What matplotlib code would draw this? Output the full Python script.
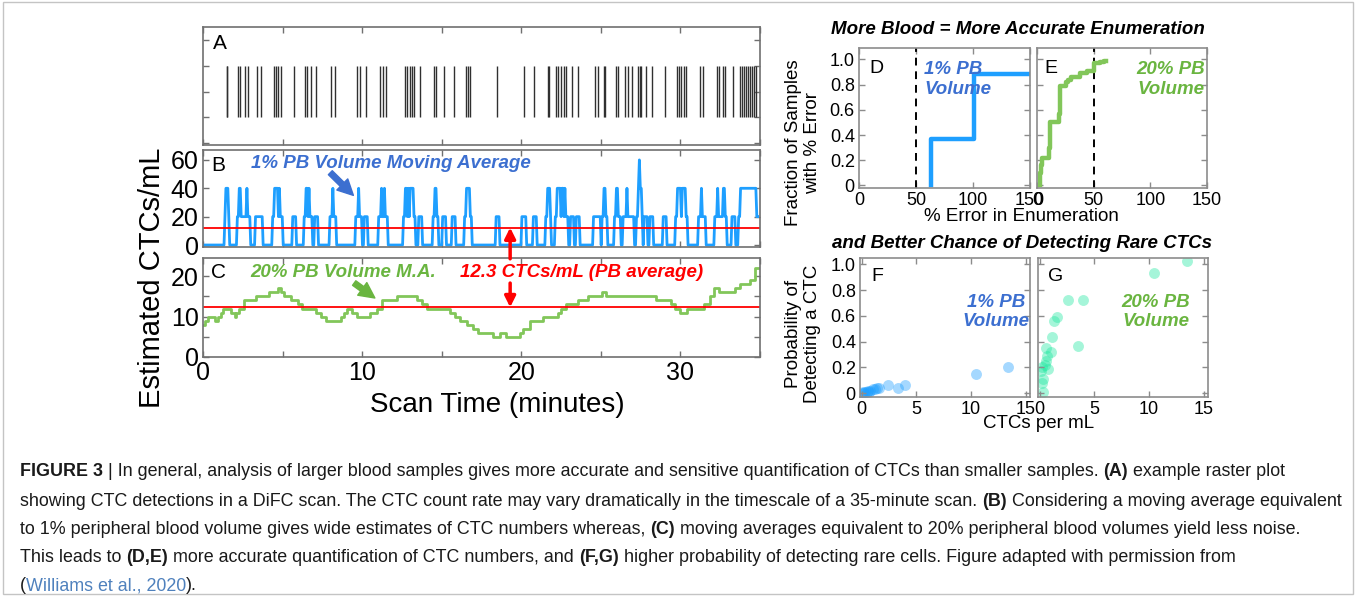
import matplotlib
matplotlib.use("Agg")
import matplotlib.pyplot as plt
import numpy as np
from matplotlib.patches import ConnectionPatch, Rectangle

plt.rcParams["font.family"] = ["Liberation Sans", "DejaVu Sans"]

# --- data ---------------------------------------------------------------
# A: CTC detection times in the scan (minutes)
ctc_events = [1.48, 1.52, 2.23, 2.35, 2.64, 2.85, 3.39, 3.64, 4.48, 4.60, 4.73, 4.89,
              5.73, 6.44, 6.56, 6.77, 7.10, 8.06, 8.27, 9.69, 9.89, 10.23, 11.14, 11.31,
              11.48, 12.71, 12.83, 13.00, 13.13, 13.25, 13.66, 14.54, 14.66, 15.13, 15.75,
              16.54, 16.66, 16.79, 18.50, 20.16, 20.83, 21.66, 21.75, 22.21, 22.33, 22.50,
              22.66, 22.83, 23.19, 23.56, 24.64, 24.85, 25.19, 25.27, 25.94, 26.10, 26.52,
              26.73, 26.98, 27.35, 27.44, 27.52, 27.81, 28.19, 29.02, 29.77, 29.89, 30.06,
              30.23, 30.35, 31.23, 31.44, 32.27, 32.44, 32.69, 32.81, 33.31, 33.77, 33.89,
              34.02, 34.14, 34.27, 34.39, 34.52, 34.64, 34.77]
scan_length = 34.9
window_1pct = 0.25          # minutes of scan equivalent to 1% PB volume
ctc_per_event_1pct = 20     # CTCs/mL contributed by one detection
pb_average = 12.3

# C: 20% PB volume moving average
c_time = [0, 0.1, 0.31, 0.52, 0.73, 0.94, 1.15, 1.25, 1.46, 1.77, 1.98, 2.08, 2.29, 2.5,
          2.6, 3.02, 3.33, 4.06, 4.17, 4.48, 4.69, 4.9, 5.1, 5.31, 5.52, 5.83, 5.94, 6.25,
          6.77, 7.08, 7.4, 7.71, 8.02, 8.54, 8.65, 8.85, 9.06, 9.27, 9.38, 9.69, 10.31,
          10.52, 10.94, 11.15, 11.25, 12.08, 12.19, 12.4, 13.02, 13.44, 13.75, 14.06, 14.27,
          15.31, 15.52, 15.83, 16.15, 16.56, 16.98, 17.29, 17.6, 17.81, 18.23, 18.65, 19.06,
          19.48, 19.69, 19.9, 20.1, 20.52, 21.04, 21.35, 22.08, 22.29, 22.5, 22.71, 22.81,
          23.33, 23.54, 23.75, 24.17, 24.38, 24.79, 25.1, 25.31, 25.73, 26.56, 26.98, 27.4,
          27.81, 28.02, 28.44, 28.75, 29.06, 29.38, 29.69, 30.0, 30.21, 30.42, 30.73, 31.15,
          31.46, 31.67, 31.88, 32.08, 32.4, 32.81, 33.02, 33.44, 33.75, 34.06, 34.38, 34.69,
          34.85]
c_value = [8, 9, 10, 10, 9, 10, 11, 12, 12, 11, 10, 11, 12, 12, 14, 14, 15, 15, 16, 16, 17,
           16, 15, 15, 14, 14, 13, 12, 12, 11, 10, 9, 9, 9, 10, 11, 12, 12, 11, 10, 10, 11,
           12, 12, 14, 14, 15, 15, 15, 14, 13, 12, 12, 12, 11, 10, 9, 8, 7, 6, 6, 6, 5, 6, 5,
           5, 5, 6, 7, 9, 9, 10, 10, 11, 12, 12, 13, 13, 14, 14, 15, 15, 15, 16, 15, 15, 15,
           15, 15, 15, 15, 14, 14, 14, 13, 12, 11, 11, 12, 12, 12, 13, 13, 15, 17, 16, 16, 16,
           17, 18, 18, 19, 22, 22]

# D, E: cumulative fraction of samples vs % error
d_error = [63, 63, 101, 150]
d_frac = [0.0, 0.37, 0.88, 0.88]
e_error = [2.4, 2.4, 3.0, 3.6, 4.4, 10.5, 11.2, 11.8, 19.3, 20.0, 20.6, 26.0, 27.5, 30.0,
           38.0, 44.0, 50.5, 56.0, 59.0, 60.5]
e_frac = [0.0, 0.05, 0.10, 0.16, 0.22, 0.30, 0.37, 0.50, 0.57, 0.66, 0.79, 0.82, 0.84, 0.86,
          0.89, 0.91, 0.97, 0.98, 0.99, 0.99]
error_threshold = 50

# F, G: probability of detecting a CTC vs CTCs per mL
f_conc = [0.05, 0.15, 0.25, 0.35, 0.45, 0.55, 0.65, 0.8, 1.0, 1.2, 1.4, 1.6, 2.45, 3.35,
          3.95, 10.5, 13.4]
f_prob = [0.0, 0.01, 0.0, 0.01, 0.01, 0.02, 0.01, 0.02, 0.03, 0.03, 0.04, 0.04, 0.06, 0.04,
          0.06, 0.15, 0.2]
g_conc = [0.1, 0.2, 0.3, 0.35, 0.5, 0.55, 0.6, 0.7, 0.75, 1.0, 1.1, 1.35, 1.55, 2.55, 3.5,
          3.95, 10.45, 13.5, 0.2]
g_prob = [0.17, 0.2, 0.11, 0.01, 0.22, 0.35, 0.25, 0.29, 0.19, 0.32, 0.44, 0.56, 0.59, 0.72,
          0.37, 0.72, 0.93, 1.03, 0.08]

BLUE_LINE = "#1E9FFF"
BLUE_TXT = "#3C6FD0"
GREEN_LINE = "#82C65A"
GREEN_TXT = "#6AB540"
MINT = "#20E8A0"
INK = "#1a1a1a"

W, H = 1356, 596
fig = plt.figure(figsize=(W / 100, H / 100), dpi=100)


def axes_px(left, top, right, bottom):
    return fig.add_axes([left / W, 1 - bottom / H, (right - left) / W, (bottom - top) / H])


def style(ax, color, size):
    for s in ax.spines.values():
        s.set_color(color)
        s.set_linewidth(1.2)
    ax.tick_params(direction="in", top=True, right=True, length=4, width=1,
                   color=color, labelsize=size, pad=3)


axA = axes_px(203, 27, 760, 145)
axB = axes_px(203, 150, 760, 247)
axC = axes_px(203, 258, 760, 357)
axD = axes_px(859, 48, 1030, 188)
axE = axes_px(1037, 48, 1207, 188)
axF = axes_px(860, 258, 1030, 397)
axG = axes_px(1038, 258, 1208, 397)

xt = np.arange(0, 36, 5)

# A: raster
axA.vlines(ctc_events, 1, 3, color="#303030", lw=1.0)
axA.set_xlim(0, scan_length)
axA.set_ylim(-0.07, 4.5)
axA.set_xticks(xt)
axA.set_yticks([0, 1, 2, 3, 4])
style(axA, "#707070", 18)
axA.tick_params(labelbottom=False, labelleft=False)
axA.text(0.6, 3.85, "A", fontsize=15, va="center")

# B: 1% PB moving average (count of detections in a short window)
ev = np.array(ctc_events)
t_grid = np.arange(0, scan_length, 0.06)
counts = (np.searchsorted(ev, t_grid + window_1pct / 2, side="right")
          - np.searchsorted(ev, t_grid - window_1pct / 2, side="left"))
axB.plot(t_grid, counts * ctc_per_event_1pct, color=BLUE_LINE, lw=2.0)
axB.axhline(pb_average, color="red", lw=1.3)
axB.set_xlim(0, scan_length)
axB.set_ylim(-1.4, 67)
axB.set_xticks(xt)
axB.set_yticks([0, 20, 40, 60])
style(axB, "#707070", 18)
axB.tick_params(labelbottom=False)
axB.text(0.5, 56, "B", fontsize=15, va="center")
axB.text(3.0, 57.5, "1% PB Volume Moving Average", fontsize=13.5, weight="bold",
         style="italic", color=BLUE_TXT, va="center")
axB.annotate("", xy=(9.45, 35), xytext=(8.0, 51),
             arrowprops=dict(arrowstyle="simple,head_length=0.7,head_width=0.7,tail_width=0.25",
                             color=BLUE_TXT, mutation_scale=16, shrinkA=0, shrinkB=0))

# C: 20% PB moving average
axC.step(c_time, c_value, where="post", color=GREEN_LINE, lw=2.0)
axC.axhline(pb_average, color="red", lw=1.3)
axC.set_xlim(0, scan_length)
axC.set_ylim(0, 24.5)
axC.set_xticks(xt)
axC.set_xticklabels(["0", "", "10", "", "20", "", "30", ""])
axC.set_yticks([0, 5, 10, 15, 20])
axC.set_yticklabels(["0", "", "10", "", "20"])
style(axC, "#707070", 18)
axC.text(0.5, 21, "C", fontsize=15, va="center")
axC.text(3.0, 21, "20% PB Volume M.A.", fontsize=13.5, weight="bold", style="italic",
         color=GREEN_TXT, va="center")
axC.text(16.15, 21, "12.3 CTCs/mL (PB average)", fontsize=13.5, weight="bold",
         style="italic", color="red", va="center")
axC.annotate("", xy=(10.8, 14.6), xytext=(9.5, 18.3),
             arrowprops=dict(arrowstyle="simple,head_length=0.7,head_width=0.7,tail_width=0.25",
                             color=GREEN_TXT, mutation_scale=16, shrinkA=0, shrinkB=0))
axC.annotate("", xy=(19.3, pb_average), xytext=(19.3, 18.3),
             arrowprops=dict(arrowstyle="-|>", color="red", lw=2.5, mutation_scale=16,
                             shrinkA=0, shrinkB=0))
up = ConnectionPatch(xyA=(19.3, 24.3), coordsA=axC.transData,
                     xyB=(19.3, pb_average), coordsB=axB.transData,
                     arrowstyle="-|>", color="red", lw=2.5, mutation_scale=16,
                     shrinkA=0, shrinkB=0)
fig.add_artist(up)

fig.text(152 / W, 1 - 278 / H, "Estimated CTCs/mL", rotation=90, fontsize=21,
         ha="center", va="center")
fig.text(497 / W, 1 - 405 / H, "Scan Time (minutes)", fontsize=20, ha="center", va="center")

# D, E: error CDFs
for ax in (axD, axE):
    ax.axvline(error_threshold, color="black", lw=1.4, ls=(0, (4, 3)))
    ax.set_xlim(0, 150)
    ax.set_ylim(-0.02, 1.09)
    ax.set_xticks([0, 50, 100, 150])
    ax.set_yticks([0, 0.2, 0.4, 0.6, 0.8, 1.0])
    style(ax, "#8c8c8c", 13)
axD.step(d_error, d_frac, where="post", color=BLUE_LINE, lw=3.2)
axE.step(e_error, e_frac, where="post", color=GREEN_LINE, lw=3.2)
axD.set_yticklabels(["0", "0.2", "0.4", "0.6", "0.8", "1.0"])
axE.tick_params(labelleft=False)
axD.text(15, 0.93, "D", fontsize=14, ha="center", va="center")
axE.text(12, 0.93, "E", fontsize=14, ha="center", va="center")
axD.text(57, 0.84, "1% PB\nVolume", fontsize=13.5, weight="bold", style="italic",
         color=BLUE_TXT, ha="left", va="center", multialignment="left")
axE.text(118, 0.84, "20% PB\nVolume", fontsize=13.5, weight="bold", style="italic",
         color=GREEN_TXT, ha="center", va="center", multialignment="center")

fig.text(1018 / W, 1 - 30 / H, "More Blood = More Accurate Enumeration", fontsize=13.5,
         weight="bold", style="italic", ha="center", va="center")
fig.text(803 / W, 1 - 143 / H, "Fraction of Samples\nwith % Error", rotation=90,
         fontsize=13.5, ha="center", va="center", multialignment="center")
fig.text(1021 / W, 1 - 217 / H, "% Error in Enumeration", fontsize=13.5,
         ha="center", va="center")

# F, G: detection probability
axF.scatter(f_conc, f_prob, s=62, color=BLUE_LINE, alpha=0.4, lw=0)
axG.scatter(g_conc, g_prob, s=62, color=MINT, alpha=0.4, lw=0)
for ax in (axF, axG):
    ax.set_xlim(-0.15, 15.4)
    ax.set_ylim(-0.03, 1.05)
    ax.set_xticks([0, 5, 10, 15])
    ax.set_yticks([0, 0.2, 0.4, 0.6, 0.8, 1.0])
    style(ax, "#8c8c8c", 13)
axF.set_yticklabels(["0", "0.2", "0.4", "0.6", "0.8", "1.0"])
axG.tick_params(labelleft=False)
axF.text(1.4, 0.91, "F", fontsize=14, ha="center", va="center")
axG.text(1.5, 0.91, "G", fontsize=14, ha="center", va="center")
axF.text(12.3, 0.63, "1% PB\nVolume", fontsize=13.5, weight="bold", style="italic",
         color=BLUE_TXT, ha="center", va="center", multialignment="center")
axG.text(10.6, 0.63, "20% PB\nVolume", fontsize=13.5, weight="bold", style="italic",
         color=GREEN_TXT, ha="center", va="center", multialignment="center")

fig.text(1022 / W, 1 - 244 / H, "and Better Chance of Detecting Rare CTCs", fontsize=13.5,
         weight="bold", style="italic", ha="center", va="center")
fig.text(803 / W, 1 - 334 / H, "Probability of\nDetecting a CTC", rotation=90,
         fontsize=13.5, ha="center", va="center", multialignment="center")
fig.text(1039 / W, 1 - 424 / H, "CTCs per mL", fontsize=13.5, ha="center", va="center")

# caption
caption = [
    [("FIGURE 3", "bold", INK), (" | In general, analysis of larger blood samples gives more "
     "accurate and sensitive quantification of CTCs than smaller samples. ", "normal", INK),
     ("(A)", "bold", INK), (" example raster plot", "normal", INK)],
    [("showing CTC detections in a DiFC scan. The CTC count rate may vary dramatically in the "
      "timescale of a 35-minute scan. ", "normal", INK), ("(B)", "bold", INK),
     (" Considering a moving average equivalent", "normal", INK)],
    [("to 1% peripheral blood volume gives wide estimates of CTC numbers whereas, ", "normal",
      INK), ("(C)", "bold", INK),
     (" moving averages equivalent to 20% peripheral blood volumes yield less noise.", "normal",
      INK)],
    [("This leads to ", "normal", INK), ("(D,E)", "bold", INK),
     (" more accurate quantification of CTC numbers, and ", "normal", INK),
     ("(F,G)", "bold", INK),
     (" higher probability of detecting rare cells. Figure adapted with permission from",
      "normal", INK)],
    [("(", "normal", INK), ("Williams et al., 2020", "normal", "#4F81BD"),
     (").", "normal", INK)],
]
caption_y = [472, 501, 530, 558, 586]
renderer = fig.canvas.get_renderer()
cap_size = 12.9
for y_px, parts in zip(caption_y, caption):
    x = 20 / W
    for txt, weight, color in parts:
        fig.text(x, 1 - y_px / H, txt, fontsize=cap_size, weight=weight, color=color,
                 ha="left", va="center")
        probe = fig.text(0, 0, "|" + txt + "|", fontsize=cap_size, weight=weight)
        bars = fig.text(0, 0, "||", fontsize=cap_size, weight=weight)
        w = probe.get_window_extent(renderer).width - bars.get_window_extent(renderer).width
        probe.remove()
        bars.remove()
        x += w / W

fig.add_artist(Rectangle((0.002, 0.003), 0.996, 0.994, transform=fig.transFigure,
                         fill=False, ec="#c4c4c4", lw=1.0))

fig.savefig("out.png", dpi=100)
